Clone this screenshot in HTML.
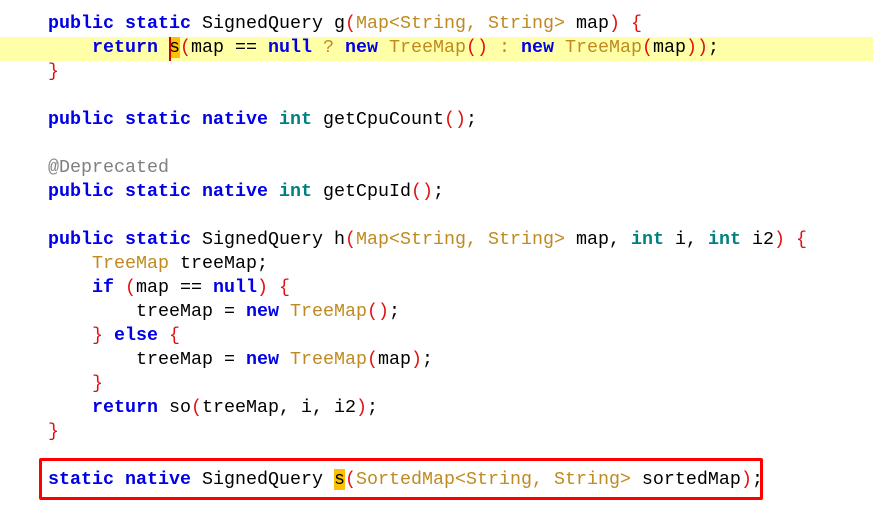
<!DOCTYPE html>
<html><head><meta charset="utf-8"><style>
html,body{margin:0;padding:0;background:#fff;width:873px;height:512px;overflow:hidden;position:relative}
pre{margin:0;position:absolute;left:48px;top:12px;font-family:"Liberation Mono",monospace;font-size:18.33px;line-height:24px;color:#000;white-space:pre}
.k{color:#0000e6;font-weight:bold}
.t{color:#008080;font-weight:bold}
.y{color:#c08a20}
.p{color:#e01010}
.a{color:#808080}
.h{background:#ffc000}
#hl{position:absolute;left:0;top:37px;width:873px;height:24px;background:#ffffa8}
#cur{position:absolute;left:169px;top:37px;width:2px;height:24px;background:#c00}
#box{position:absolute;left:39px;top:458px;width:718px;height:36px;border:3px solid #f00;border-radius:2px}
</style></head><body>
<div id="hl"></div>
<pre><span class="k">public static</span> SignedQuery g<span class="p">(</span><span class="y">Map&lt;String, String&gt;</span> map<span class="p">)</span> <span class="p">{</span>
    <span class="k">return</span> <span class="h">s</span><span class="p">(</span>map == <span class="k">null</span> <span class="y">?</span> <span class="k">new</span> <span class="y">TreeMap</span><span class="p">()</span> <span class="y">:</span> <span class="k">new</span> <span class="y">TreeMap</span><span class="p">(</span>map<span class="p">))</span>;
<span class="p">}</span>

<span class="k">public static native</span> <span class="t">int</span> getCpuCount<span class="p">()</span>;

<span class="a">@Deprecated</span>
<span class="k">public static native</span> <span class="t">int</span> getCpuId<span class="p">()</span>;

<span class="k">public static</span> SignedQuery h<span class="p">(</span><span class="y">Map&lt;String, String&gt;</span> map, <span class="t">int</span> i, <span class="t">int</span> i2<span class="p">)</span> <span class="p">{</span>
    <span class="y">TreeMap</span> treeMap;
    <span class="k">if</span> <span class="p">(</span>map == <span class="k">null</span><span class="p">)</span> <span class="p">{</span>
        treeMap = <span class="k">new</span> <span class="y">TreeMap</span><span class="p">()</span>;
    <span class="p">}</span> <span class="k">else</span> <span class="p">{</span>
        treeMap = <span class="k">new</span> <span class="y">TreeMap</span><span class="p">(</span>map<span class="p">)</span>;
    <span class="p">}</span>
    <span class="k">return</span> so<span class="p">(</span>treeMap, i, i2<span class="p">)</span>;
<span class="p">}</span>

<span class="k">static native</span> SignedQuery <span class="h">s</span><span class="p">(</span><span class="y">SortedMap&lt;String, String&gt;</span> sortedMap<span class="p">)</span>;</pre>
<div id="cur"></div>
<div id="box"></div>
</body></html>
